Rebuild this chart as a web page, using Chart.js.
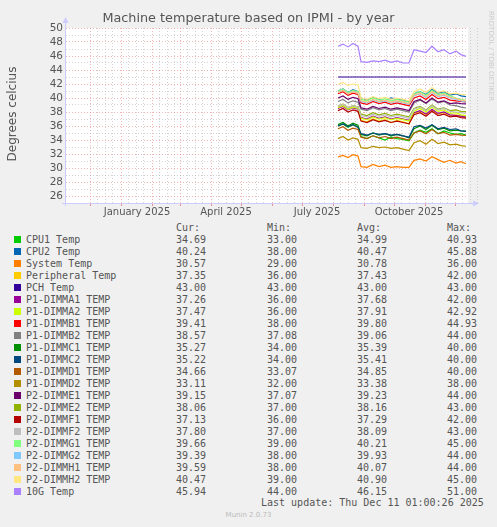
<!DOCTYPE html>
<html><head><meta charset="utf-8">
<script src="https://cdn.jsdelivr.net/npm/chart.js@4.4.0/dist/chart.umd.min.js"></script>
<style>
body{margin:0;background:#f0f0f0;width:497px;height:527px;overflow:hidden;position:relative;font-family:"DejaVu Sans";}
#c{position:absolute;left:0;top:0;}
.t{position:absolute;color:#555;white-space:pre;}
.lg{position:absolute;font-family:"DejaVu Sans Mono";font-size:10px;color:#555;white-space:pre;line-height:11px;}
.sw{position:absolute;width:7px;height:7px;}
</style></head><body>
<canvas id="c" width="497" height="218"></canvas>
<div class="t" style="left:0;width:497px;text-align:center;top:10px;font-size:12.8px;">Machine temperature based on IPMI - by year</div>
<div class="t" style="left:-38px;top:107px;font-size:12px;transform:rotate(-90deg);width:100px;text-align:center;">Degrees celcius</div>
<div class="t" style="left:446px;top:52px;font-size:7px;color:#ccc;transform:rotate(90deg);width:90px;text-align:center;">RRDTOOL / TOBI OETIKER</div>
<div id="legend"></div>
<script>
const days=[217,222,227,232,237,240,246,252,258,264,270,276,282,288,293,299,305,311,317,323,329,335,340,345];
const names=["CPU1 Temp","CPU2 Temp","System Temp","Peripheral Temp","PCH Temp","P1-DIMMA1 TEMP","P1-DIMMA2 TEMP","P1-DIMMB1 TEMP","P1-DIMMB2 TEMP","P1-DIMMC1 TEMP","P1-DIMMC2 TEMP","P1-DIMMD1 TEMP","P1-DIMMD2 TEMP","P2-DIMME1 TEMP","P2-DIMME2 TEMP","P2-DIMMF1 TEMP","P2-DIMMF2 TEMP","P2-DIMMG1 TEMP","P2-DIMMG2 TEMP","P2-DIMMH1 TEMP","P2-DIMMH2 TEMP","10G Temp"];
const colors=["#00cc00","#0066b3","#ff8000","#ffcc00","#330099","#990099","#ccff00","#ff0000","#808080","#008f00","#00487d","#b35a00","#b38f00","#6b006b","#8fb300","#b30000","#bebebe","#80ff80","#80c9ff","#ffc080","#ffe680","#aa80ff"];
const cur=["34.69","40.24","30.57","37.35","43.00","37.26","37.47","39.41","38.57","35.27","35.22","34.66","33.11","39.15","38.06","37.13","37.80","39.66","39.39","39.59","40.47","45.94"];
const mins=["33.00","38.00","29.00","36.00","43.00","36.00","36.00","38.00","37.08","34.00","34.00","33.07","32.00","37.07","37.00","36.00","37.00","39.00","38.00","38.00","39.00","44.00"];
const avgs=["34.99","40.47","30.78","37.43","43.00","37.68","37.91","39.80","39.06","35.39","35.41","34.85","33.38","39.23","38.16","37.29","38.09","40.21","39.93","40.07","40.90","46.15"];
const maxs=["40.93","45.88","36.00","42.00","43.00","42.00","42.92","44.93","44.00","40.00","40.00","40.00","38.00","44.00","43.00","42.00","43.00","45.00","44.00","44.00","45.00","51.00"];
const cpu1=[36.0,36.3,35.8,36.2,35.9,34.5,34.2,34.6,34.3,34.0,34.4,34.2,34.1,33.9,35.0,35.4,35.1,35.6,34.9,35.3,35.0,34.8,34.9,34.7];
const cpu2=[41.0,41.3,40.8,41.2,40.9,40.0,39.7,40.1,39.8,39.6,40.0,39.8,39.7,39.5,40.6,40.9,40.5,41.2,40.7,40.9,40.4,40.6,40.3,40.2];
const sys=[31.6,31.8,31.5,31.9,31.7,30.2,30.1,30.5,30.2,30.4,30.1,30.2,30.1,30.1,31.1,31.3,31.0,31.6,31.2,30.8,31.1,30.7,30.9,30.6];
const periph=[38.8,39.1,38.6,38.9,38.7,36.8,36.6,37.0,36.7,36.9,36.5,36.8,36.6,36.3,37.8,38.1,37.6,38.3,37.7,37.9,37.5,37.6,37.4,37.35];
const pch=[43,43,43,43,43,43,43,43,43,43,43,43,43,43,43,43,43,43,43,43,43,43,43,43];
const a1=[38.5,38.8,38.3,38.6,38.4,37.2,37.0,37.4,37.1,37.3,37.0,37.2,37.0,36.8,37.9,38.2,37.7,38.4,37.8,38.0,37.6,37.5,37.4,37.26];
const a2=[38.6,38.9,38.4,38.7,38.5,37.1,36.9,37.3,37.0,37.2,36.9,37.1,36.9,36.7,38.1,38.5,38.0,38.7,38.1,38.3,37.8,37.9,37.6,37.47];
const b1=[40.6,40.9,40.4,40.7,40.5,39.3,39.1,39.5,39.2,39.4,39.1,39.3,39.1,38.9,40.0,40.3,39.8,40.5,39.9,40.1,39.7,39.6,39.5,39.41];
const b2=[39.5,39.8,39.3,39.6,39.4,38.4,38.2,38.6,38.3,38.5,38.2,38.4,38.2,38.0,39.3,39.7,39.2,39.9,39.3,39.5,39.0,38.9,38.7,38.57];
const c1=[36.2,36.5,36.0,36.4,36.1,34.8,34.6,35.0,34.7,34.9,34.6,34.8,34.6,34.3,35.6,36.0,35.5,36.1,35.5,35.7,35.3,35.4,35.3,35.27];
const c2=[36.0,36.3,35.9,36.2,35.8,34.9,34.7,35.0,34.8,34.9,34.7,34.8,34.6,34.4,35.9,36.1,35.7,36.2,35.6,35.8,35.5,35.6,35.3,35.22];
const d1=[35.6,35.9,35.4,35.7,35.5,34.4,34.2,34.6,34.3,34.5,34.2,34.4,34.2,34.0,35.0,35.3,34.9,35.5,34.9,35.1,34.7,34.8,34.7,34.66];
const d2=[34.2,34.5,34.0,34.3,34.1,32.9,32.8,33.1,32.9,33.0,32.8,32.9,32.7,32.5,33.6,33.9,33.4,34.1,33.5,33.7,33.3,33.4,33.2,33.11];
const e1=[40.0,40.3,39.8,40.1,39.9,38.6,38.4,38.8,38.5,38.7,38.4,38.6,38.4,38.2,39.5,39.8,39.3,40.0,39.4,39.6,39.2,39.3,39.2,39.15];
const e2=[38.8,39.1,38.6,38.9,38.7,37.7,37.5,37.9,37.6,37.8,37.5,37.7,37.5,37.3,38.5,38.8,38.3,39.0,38.4,38.6,38.2,38.3,38.1,38.06];
const f1=[38.2,38.5,38.0,38.3,38.1,36.7,36.5,36.9,36.6,36.8,36.5,36.7,36.5,36.3,37.6,37.9,37.4,38.1,37.5,37.7,37.3,37.4,37.2,37.13];
const f2=[38.8,39.1,38.6,38.9,38.7,37.5,37.3,37.7,37.4,37.6,37.3,37.5,37.3,37.1,38.4,38.7,38.2,38.9,38.3,38.5,38.1,38.0,37.9,37.8];
const g1=[41.0,41.3,40.8,41.1,40.9,39.8,39.6,40.0,39.7,39.9,39.6,39.8,39.6,39.4,40.6,40.9,40.4,41.1,40.5,40.7,40.3,40.0,39.8,39.66];
const g2=[40.8,41.1,40.6,40.9,40.7,39.5,39.3,39.7,39.4,39.6,39.3,39.5,39.3,39.1,40.3,40.6,40.1,40.8,40.2,40.4,40.0,39.8,39.6,39.39];
const h1=[40.8,41.1,40.6,40.9,40.7,39.6,39.4,39.8,39.5,39.7,39.4,39.6,39.4,39.2,40.4,40.7,40.2,40.9,40.3,40.5,40.1,39.9,39.7,39.59];
const h2=[42.0,42.2,41.8,42.0,41.9,40.0,39.8,40.2,39.9,40.1,39.8,40.0,39.8,39.6,40.9,41.3,40.8,41.5,40.8,41.0,40.6,40.7,40.5,40.47];
const g10=[47.4,47.7,47.3,47.8,47.4,45.2,45.1,45.3,45.2,45.4,45.1,45.3,45.0,45.0,46.9,46.7,46.5,47.4,46.6,46.9,46.3,46.7,46.2,45.94];
const series=[cpu1,cpu2,sys,periph,pch,a1,a2,b1,b2,c1,c2,d1,d2,e1,e2,f1,f2,g1,g2,h1,h2,g10];
const monthStarts=[-31,0,31,59,90,120,151,181,212,243,273,304,334];
const monthLabels=[[16,"January 2025"],[105,"April 2025"],[196,"July 2025"],[288,"October 2025"]];
const yTicks=[26,28,30,32,34,36,38,40,42,44,46,48,50];

const lg=document.getElementById('legend');
let html='<div class="lg" style="left:176px;top:222px">Cur:</div><div class="lg" style="left:267px;top:222px">Min:</div><div class="lg" style="left:357px;top:222px">Avg:</div><div class="lg" style="left:447px;top:222px">Max:</div>';
names.forEach((n,i)=>{const y=233.5+i*12;
html+=`<div class="sw" style="left:14px;top:${y+2}px;background:${colors[i]}"></div><div class="lg" style="left:26px;top:${y}px">${n}</div><div class="lg" style="left:176px;top:${y}px">${cur[i]}</div><div class="lg" style="left:267px;top:${y}px">${mins[i]}</div><div class="lg" style="left:357px;top:${y}px">${avgs[i]}</div><div class="lg" style="left:447px;top:${y}px">${maxs[i]}</div>`;});
html+='<div class="lg" style="left:261px;top:497px">Last update: Thu Dec 11 01:00:26 2025</div>';
html+='<div class="t" style="left:0;width:497px;text-align:center;top:511px;font-size:7px;color:#bbb">Munin 2.0.73</div>';
lg.innerHTML=html;

const minor=[];
monthStarts.forEach(m=>{[7.5,15,22.5].forEach(o=>minor.push(m+o));});
const axisPlugin={id:'ax',afterDraw(ch){const c=ch.ctx,a=ch.chartArea;c.save();c.strokeStyle='#ccccff';c.fillStyle='#ccccff';c.lineWidth=1;
c.beginPath();c.moveTo(a.left-0.5,a.bottom+3);c.lineTo(a.left-0.5,a.top-6);c.moveTo(a.left-4,a.bottom+0.5);c.lineTo(a.right+5,a.bottom+0.5);c.stroke();
c.beginPath();c.moveTo(a.left-3.5,a.top-5);c.lineTo(a.left+2.5,a.top-5);c.lineTo(a.left-0.5,a.top-11);c.fill();
c.beginPath();c.moveTo(a.right+5,a.bottom-2.5);c.lineTo(a.right+5,a.bottom+3.5);c.lineTo(a.right+11,a.bottom+0.5);c.fill();
c.fillStyle='#555';c.font='10px "DejaVu Sans"';c.textAlign='center';c.textBaseline='top';
const xs=ch.scales.x;monthLabels.forEach(([d,t])=>c.fillText(t,xs.getPixelForValue(d),a.bottom+4));
c.restore();},
beforeDraw(ch){const c=ch.ctx,a=ch.chartArea;c.save();c.fillStyle='#fff';c.fillRect(a.left,a.top,a.right-a.left,a.bottom-a.top);c.restore();}};

new Chart(document.getElementById('c'),{type:'line',
data:{datasets:series.map((s,i)=>({label:names[i],data:s.map((v,j)=>({x:days[j],y:v})),borderColor:colors[i],borderWidth:1.2,pointRadius:0,tension:0,fill:false,order:100-i}))},
options:{responsive:false,animation:false,events:[],
layout:{padding:{left:0,top:28,right:29,bottom:0}},
plugins:{legend:{display:false},tooltip:{enabled:false}},
scales:{
x:{type:'linear',min:-55,max:347,
afterBuildTicks(s){s.ticks=monthStarts.map(v=>({value:v,major:true})).concat(minor.map(v=>({value:v})));},
afterFit(s){s.height=15;},
ticks:{display:false},
grid:{color:c=>c.tick&&c.tick.major?'rgba(230,120,120,0.55)':'rgba(170,170,170,0.5)',lineWidth:1,drawTicks:true,tickLength:3,tickColor:c=>c.tick&&c.tick.major?'rgba(230,120,120,0.8)':'rgba(0,0,0,0)'},
border:{display:false,dash:[1,2]}},
y:{min:25,max:50,
afterBuildTicks(s){const t=[];for(let v=25;v<=50;v++)t.push({value:v});s.ticks=t;},
afterFit(s){s.width=66;},
ticks:{autoSkip:false,color:'#555',font:{family:'DejaVu Sans',size:10.5},padding:3,callback:v=>yTicks.includes(v)?String(v):''},
grid:{color:c=>c.tick&&c.tick.value%2===0?'rgba(230,120,120,0.55)':'rgba(170,170,170,0.5)',drawTicks:false},
border:{display:false,dash:[1,2]}}}},
plugins:[axisPlugin]});
</script></body></html>
